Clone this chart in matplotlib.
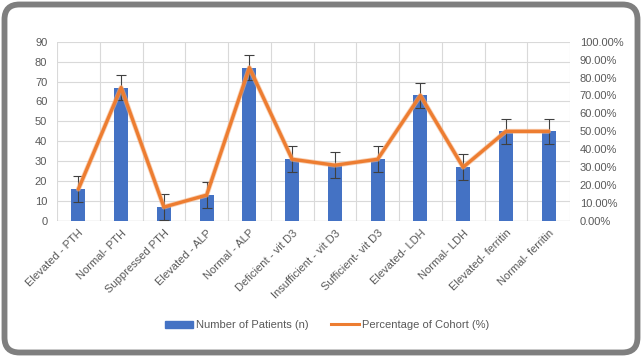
import matplotlib.pyplot as plt
from matplotlib.patches import FancyBboxPatch, Patch
from matplotlib.lines import Line2D
from matplotlib.ticker import PercentFormatter
import numpy as np

plt.rcParams['font.family'] = ['Liberation Sans', 'DejaVu Sans']

# Data
categorias = ["Elevated - PTH", "Normal- PTH", "Suppressed PTH", "Elevated - ALP",
              "Normal - ALP", "Deficient - vit D3", "Insufficient - vit D3",
              "Sufficient- vit D3", "Elevated- LDH", "Normal- LDH",
              "Elevated- ferritin", "Normal- ferritin"]
pacientes = [16, 67, 7, 13, 77, 31, 28, 31, 63, 27, 45, 45]
percentual = [17.78, 74.44, 7.78, 14.44, 85.56, 34.44, 31.11, 34.44, 70.0, 30.0, 50.0, 50.0]
erro_padrao = 6.44

azul = "#4472C4"
laranja = "#ED7D31"
texto = "#595959"
grade = "#D9D9D9"

fig = plt.figure(figsize=(6.42, 3.57), dpi=100)
ax = fig.add_axes([57/642, 1 - 221/357, 513/642, 179.3/357])
x = np.arange(len(categorias))

# barras com erro
ax.bar(x, pacientes, width=0.33, color=azul, zorder=2)
ax.errorbar(x, pacientes, yerr=erro_padrao, fmt="none", ecolor="#404040",
            elinewidth=0.8, capsize=3.5, capthick=0.8, zorder=3)

ax.set_ylim(0, 90)
ax.set_xlim(-0.5, len(categorias) - 0.5)
ax.set_yticks(range(0, 91, 10))
ax.set_xticks(x)
ax.set_xticklabels(categorias, rotation=45, ha="right", rotation_mode="anchor",
                   fontsize=8, color=texto)
ax.tick_params(axis="y", length=0, labelsize=8, labelcolor=texto, pad=7)
ax.tick_params(axis="x", length=0, pad=5)

# grade
for yv in range(10, 91, 10):
    ax.axhline(yv, color=grade, lw=0.8, zorder=0)
for xv in np.arange(-0.5, len(categorias), 1):
    ax.axvline(xv, color=grade, lw=0.8, zorder=0)
for s in ax.spines.values():
    s.set_visible(False)
ax.axhline(0, color="#BFBFBF", lw=0.9, zorder=1)

# eixo secundario
ax2 = ax.twinx()
ax2.plot(x, percentual, color="#F4B183", lw=3.6, solid_capstyle="round", zorder=3, alpha=0.6)
ax2.plot(x, percentual, color=laranja, lw=2.4, solid_capstyle="round", zorder=4)
ax2.set_ylim(0, 100)
ax2.set_yticks(range(0, 101, 10))
ax2.yaxis.set_major_formatter(PercentFormatter(decimals=2))
ax2.tick_params(axis="y", length=0, labelsize=8, labelcolor=texto, pad=7)
for s in ax2.spines.values():
    s.set_visible(False)

# legenda
handles = [Patch(color=azul), Line2D([0], [0], color=laranja, lw=2.2)]
fig.legend(handles, ["Number of Patients (n)", "Percentage of Cohort (%)"],
           loc="center", bbox_to_anchor=(327/642, 1 - 325/357), ncol=2, frameon=False,
           fontsize=8, labelcolor=texto, handlelength=2.5, handleheight=0.6,
           columnspacing=2.0, handletextpad=0.3)

# moldura arredondada
moldura = FancyBboxPatch((0.045, 0.045), 6.33, 3.48,
                         boxstyle="round,pad=0,rounding_size=0.15",
                         transform=fig.dpi_scale_trans, fill=False,
                         edgecolor="#7F7F7F", lw=4.2)
fig.patches.append(moldura)

fig.savefig("out.png", dpi=100)
